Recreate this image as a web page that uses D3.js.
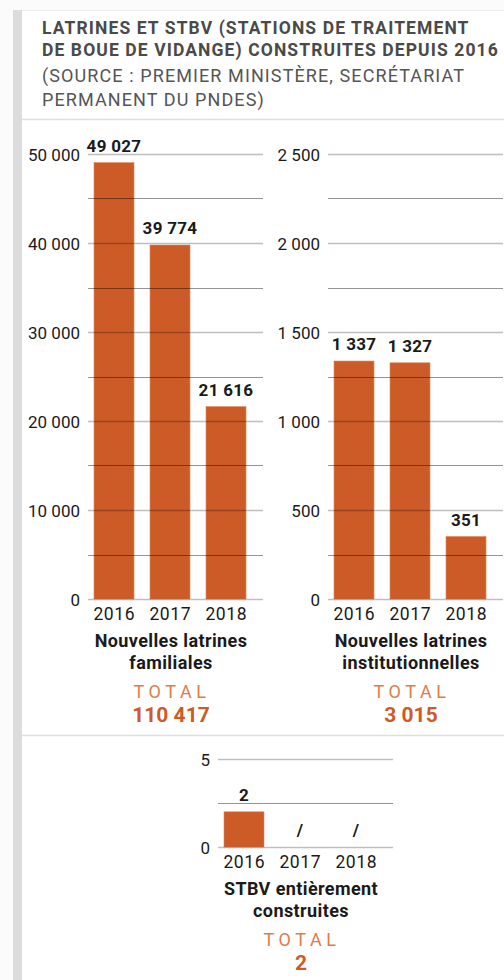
<!DOCTYPE html>
<html>
<head>
<meta charset="utf-8">
<script src="https://cdn.jsdelivr.net/npm/d3@7"></script>
<style>
  body { margin: 0; background: #fff; }
  svg text { font-family: Roboto, "Noto Sans", sans-serif; }
</style>
</head>
<body>
<div id="chart"></div>
<script>
//Données
const years = ['2016', '2017', '2018'];
const familiales = [49027, 39774, 21616];
const institutionnelles = [1337, 1327, 351];
const stbv = [2, null, null];

const ticksFamiliales = [0, 10000, 20000, 30000, 40000, 50000];
const ticksInstitution = [0, 500, 1000, 1500, 2000, 2500];
const ticksStbv = [0, 5];

const titleLines = ['LATRINES ET STBV (STATIONS DE TRAITEMENT', 'DE BOUE DE VIDANGE) CONSTRUITES DEPUIS 2016'];
const sourceLines = ['(SOURCE : PREMIER MINISTÈRE, SECRÉTARIAT', 'PERMANENT DU PNDES)'];

//Couleurs
const COLOR_BAR = '#cc5b28',
    COLOR_TOTAL = '#de7c4a',
    COLOR_TITLE = '#4a4a4a',
    COLOR_TEXT = '#1a1a1a';

const fr = d3.formatLocale({ decimal: ',', thousands: ' ', grouping: [3], currency: ['', ' €'] });
const fmt = fr.format(',d');

const W = 504, H = 980;

let svg = d3.select('#chart')
    .append('svg')
    .attr('width', W)
    .attr('height', H);

//Cadre
svg.append('rect').attr('x', 0).attr('y', 0).attr('width', W).attr('height', H).attr('fill', '#fbfbfb');
svg.append('rect').attr('x', 13).attr('y', 10).attr('width', W - 13).attr('height', H - 10).attr('fill', '#fff');
svg.append('rect').attr('x', 13).attr('y', 10).attr('width', 9).attr('height', H - 10).attr('fill', '#dcdcdc');
svg.append('line').attr('x1', 22).attr('x2', W).attr('y1', 10.5).attr('y2', 10.5).attr('stroke', '#ececec');

//Titre
svg.append('g').selectAll('text')
    .data(titleLines)
    .enter()
    .append('text')
    .attr('x', 42)
    .attr('y', (d, i) => 34 + i * 22)
    .attr('fill', COLOR_TITLE)
    .attr('font-size', 17.5)
    .attr('font-weight', 700)
    .attr('letter-spacing', 1.1)
    .text(d => d);

svg.append('g').selectAll('text')
    .data(sourceLines)
    .enter()
    .append('text')
    .attr('x', 42)
    .attr('y', (d, i) => 82 + i * 24)
    .attr('fill', '#555')
    .attr('font-size', 18)
    .attr('letter-spacing', 1.1)
    .text(d => d);

svg.append('line').attr('x1', 22).attr('x2', W).attr('y1', 119.5).attr('y2', 119.5).attr('stroke', '#dedede').attr('stroke-width', 1.5);
svg.append('line').attr('x1', 22).attr('x2', W).attr('y1', 735.5).attr('y2', 735.5).attr('stroke', '#dedede').attr('stroke-width', 1.5);

function drawPanel(cfg) {
    let g = svg.append('g');

    let x = d3.scaleBand()
        .domain(years)
        .range([cfg.x0, cfg.x0 + 166])
        .paddingInner(0.2857)
        .paddingOuter(0.125);

    let y = d3.scaleLinear()
        .domain([0, cfg.max])
        .range([cfg.yZero, cfg.yTop]);

    //Barres
    g.selectAll('rect.bar')
        .data(cfg.values)
        .enter()
        .append('rect')
        .attr('class', 'bar')
        .filter(d => d != null)
        .attr('x', (d, i) => x(years[i]))
        .attr('y', d => y(d))
        .attr('width', x.bandwidth())
        .attr('height', d => y(0) - y(d))
        .attr('fill', COLOR_BAR)
        .attr('stroke', '#e0875c')
        .attr('stroke-width', 0.6);

    //Grille (par-dessus les barres)
    let minor = d3.range(cfg.step / 2, cfg.max, cfg.step);
    g.selectAll('line.minor')
        .data(minor)
        .enter()
        .append('line')
        .attr('x1', cfg.x0 + 1).attr('x2', cfg.x0 + 176)
        .attr('y1', d => Math.round(y(d)) + 0.5).attr('y2', d => Math.round(y(d)) + 0.5)
        .attr('stroke', '#000').attr('stroke-opacity', 0.42).attr('stroke-width', 1);

    g.selectAll('line.major')
        .data(cfg.ticks)
        .enter()
        .append('line')
        .attr('x1', cfg.x0 + 1).attr('x2', cfg.x0 + 176)
        .attr('y1', d => Math.round(y(d)) + 0.5).attr('y2', d => Math.round(y(d)) + 0.5)
        .attr('stroke', '#000').attr('stroke-opacity', 0.25).attr('stroke-width', 1.6);

    //Axe Y
    g.selectAll('text.tick')
        .data(cfg.ticks)
        .enter()
        .append('text')
        .attr('x', cfg.x0 - 7)
        .attr('y', d => y(d) + 6.5)
        .attr('text-anchor', 'end')
        .attr('font-size', 17)
        .attr('fill', COLOR_TEXT)
        .text(d => fmt(d));

    //Axe X
    g.selectAll('text.year')
        .data(years)
        .enter()
        .append('text')
        .attr('x', d => x(d) + x.bandwidth() / 2 + 0.3)
        .attr('y', cfg.yZero + 21)
        .attr('text-anchor', 'middle')
        .attr('font-size', 17.5)
        .attr('letter-spacing', 0.6)
        .attr('fill', COLOR_TEXT)
        .text(d => d);

    //Valeurs
    g.selectAll('text.val')
        .data(cfg.values)
        .enter()
        .append('text')
        .attr('x', (d, i) => x(years[i]) + x.bandwidth() / 2)
        .attr('y', d => d == null ? cfg.yZero - 11 : y(d) - 11)
        .attr('text-anchor', 'middle')
        .attr('font-size', 17)
        .attr('font-weight', 700)
        .attr('letter-spacing', 0.3)
        .attr('fill', COLOR_TEXT)
        .text(d => d == null ? '/' : fmt(d));

    let cx = cfg.x0 + 84;
    g.selectAll('text.cat')
        .data(cfg.label)
        .enter()
        .append('text')
        .attr('x', cx)
        .attr('y', (d, i) => cfg.yZero + 48 + i * 22)
        .attr('text-anchor', 'middle')
        .attr('font-size', 18)
        .attr('font-weight', 700)
        .attr('letter-spacing', 0.4)
        .attr('fill', COLOR_TEXT)
        .text(d => d);

    g.append('text')
        .attr('x', cx + 1)
        .attr('y', cfg.yZero + 99)
        .attr('text-anchor', 'middle')
        .attr('font-size', 18)
        .attr('font-weight', 400)
        .attr('letter-spacing', 4.6)
        .attr('fill', COLOR_TOTAL)
        .text('TOTAL');

    g.append('text')
        .attr('x', cx)
        .attr('y', cfg.yZero + 123)
        .attr('text-anchor', 'middle')
        .attr('font-size', 21)
        .attr('font-weight', 700)
        .attr('fill', COLOR_BAR)
        .text(fmt(d3.sum(cfg.values.filter(v => v != null))));
}

drawPanel({ values: familiales, ticks: ticksFamiliales, max: 50000, step: 10000, x0: 87, yZero: 599, yTop: 154, label: ['Nouvelles latrines', 'familiales'] });
drawPanel({ values: institutionnelles, ticks: ticksInstitution, max: 2500, step: 500, x0: 327, yZero: 599, yTop: 154, label: ['Nouvelles latrines', 'institutionnelles'] });
drawPanel({ values: stbv, ticks: ticksStbv, max: 5, step: 5, x0: 217, yZero: 847, yTop: 759, label: ['STBV entièrement', 'construites'] });
</script>
</body>
</html>
